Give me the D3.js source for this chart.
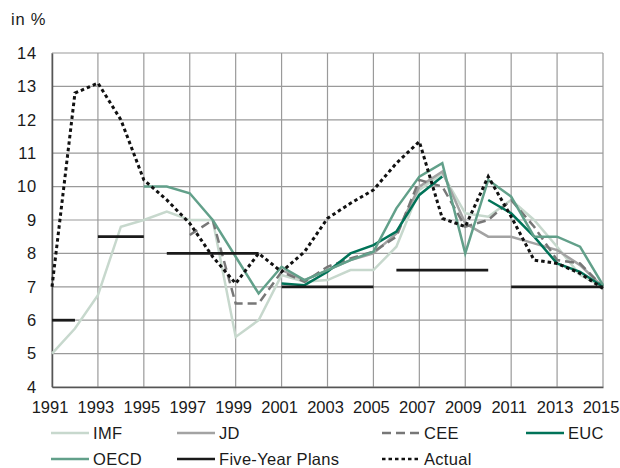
<!DOCTYPE html>
<html>
<head>
<meta charset="utf-8">
<script src="https://cdn.jsdelivr.net/npm/d3@7"></script>
<style>
  body { margin: 0; background: #fff; }
  text { font-family: "Liberation Sans", Arial, sans-serif; fill: #1a1a1a; }
</style>
</head>
<body>
<div id="chart"></div>
<script>
// years on the x axis
var years = [1991, 1992, 1993, 1994, 1995, 1996, 1997, 1998, 1999, 2000, 2001, 2002, 2003,
  2004, 2005, 2006, 2007, 2008, 2009, 2010, 2011, 2012, 2013, 2014, 2015];

var xTicks = [1991, 1993, 1995, 1997, 1999, 2001, 2003, 2005, 2007, 2009, 2011, 2013, 2015];
var yTicks = [4, 5, 6, 7, 8, 9, 10, 11, 12, 13, 14];

// forecasts, in %, null where no value
var imf = [5.0, 5.75, 6.75, 8.8, 9.0, 9.25, 9.0, 9.0, 5.5, 6.0, 7.35, 7.15, 7.2,
  7.5, 7.5, 8.2, 9.9, 10.4, 9.2, 9.1, 9.6, 9.0, 8.2, 7.35, 7.0];
var jd = [null, null, null, null, null, null, null, null, null, null, 7.5, 7.2, 7.5,
  7.8, 8.0, 8.6, 10.0, 10.45, 8.9, 8.5, 8.5, 8.3, 8.1, 7.65, 7.0];
var cee = [null, null, null, null, null, null, 8.55, 9.0, 6.5, 6.5, 7.45, 7.15, 7.6,
  7.85, 8.05, 8.5, 10.2, 10.0, 8.8, 9.0, 9.6, 8.8, 7.8, 7.7, 7.0];
var euc = [null, null, null, null, null, null, null, null, null, null, 7.1, 7.05, 7.45,
  8.0, 8.25, 8.65, 9.75, 10.3, null, 9.6, 9.2, 8.5, 7.7, 7.45, 7.0];
var oecd = [null, null, null, null, 10.0, 10.0, 9.8, 9.0, 7.9, 6.8, 7.6, 7.2, 7.5,
  7.8, 8.05, 9.35, 10.3, 10.7, 8.0, 10.2, 9.7, 8.5, 8.5, 8.2, 7.05];
var actual = [7.0, 12.8, 13.1, 12.0, 10.2, 9.6, 8.9, 7.9, 7.1, 8.0, 7.45, 8.05, 9.05,
  9.5, 9.9, 10.7, 11.35, 9.05, 8.8, 10.3, 9.1, 7.8, 7.7, 7.4, 6.95];

// five-year plan targets: start year, end year, value
var planStart = [1991, 1993, 1996, 2001, 2006, 2011];
var planEnd = [1992, 1995, 2000, 2005, 2010, 2015];
var planValue = [6, 8.5, 8, 7, 7.5, 7];

var svgWidth = 620;
var svgHeight = 468;

var margin = { top: 53, right: 17, bottom: 81, left: 52 };
var width = svgWidth - margin.left - margin.right;
var height = svgHeight - margin.top - margin.bottom;

var svg = d3.select("#chart")
  .append("svg")
  .attr("width", svgWidth)
  .attr("height", svgHeight);

var chartGroup = svg.append("g")
  .attr("transform", `translate(${margin.left}, ${margin.top})`);

var xScale = d3.scaleLinear().domain([1991, 2015]).range([0, width]);
var yScale = d3.scaleLinear().domain([4, 14]).range([height, 0]);

// grid
chartGroup.append("g")
  .selectAll("line")
  .data(yTicks)
  .enter()
  .append("line")
  .attr("x1", 0)
  .attr("x2", width)
  .attr("y1", d => yScale(d))
  .attr("y2", d => yScale(d))
  .attr("stroke", "#9a9a9a")
  .attr("stroke-width", 1.2);

chartGroup.append("g")
  .selectAll("line")
  .data(xTicks)
  .enter()
  .append("line")
  .attr("x1", d => xScale(d))
  .attr("x2", d => xScale(d))
  .attr("y1", 0)
  .attr("y2", height)
  .attr("stroke", "#9a9a9a")
  .attr("stroke-width", 1.2);

// axes
var bottomAxis = d3.axisBottom(xScale).tickValues(xTicks).tickFormat(d3.format("d")).tickSize(0).tickPadding(14);
var leftAxis = d3.axisLeft(yScale).tickValues(yTicks).tickSize(0).tickPadding(15);

var xAxis = chartGroup.append("g")
  .attr("transform", `translate(0, ${height})`)
  .call(bottomAxis);
var yAxis = chartGroup.append("g").call(leftAxis);

[xAxis, yAxis].forEach(function(ax) {
  ax.select(".domain").attr("stroke", "#555").attr("stroke-width", 1.5);
  ax.selectAll("text")
    .style("font-family", "'Liberation Sans', Arial, sans-serif")
    .style("font-size", "16.5px")
    .attr("fill", "#1a1a1a");
});
yAxis.selectAll("text").style("letter-spacing", "0.8px");
xAxis.selectAll("text").attr("dx", -2.5);

svg.append("text")
  .attr("x", 11)
  .attr("y", 25)
  .style("font-size", "16.5px")
  .style("letter-spacing", "0.8px")
  .text("in %");

// series
var series = [
  { name: "IMF", values: imf, color: "#c7d8cd", dash: null, width: 2.5 },
  { name: "JD", values: jd, color: "#a3a3a3", dash: null, width: 2.5 },
  { name: "CEE", values: cee, color: "#777777", dash: "9,5", width: 2.5 },
  { name: "EUC", values: euc, color: "#007358", dash: null, width: 2.5 },
  { name: "OECD", values: oecd, color: "#62a08a", dash: null, width: 2.5 },
  { name: "Actual", values: actual, color: "#111111", dash: "3.5,3", width: 3 }
];

var line = d3.line()
  .defined(d => d.v !== null)
  .x(d => xScale(d.year))
  .y(d => yScale(d.v));

function drawSeries(s) {
  chartGroup.append("path")
    .datum(years.map((y, i) => ({ year: y, v: s.values[i] })))
    .attr("fill", "none")
    .attr("stroke", s.color)
    .attr("stroke-width", s.width)
    .attr("stroke-dasharray", s.dash)
    .attr("stroke-linejoin", "miter")
    .attr("d", line);
}

series.slice(0, 5).forEach(drawSeries);

// five-year plans
chartGroup.append("g")
  .selectAll("line")
  .data(planValue)
  .enter()
  .append("line")
  .attr("x1", (d, i) => xScale(planStart[i]))
  .attr("x2", (d, i) => xScale(planEnd[i]))
  .attr("y1", d => yScale(d))
  .attr("y2", d => yScale(d))
  .attr("stroke", "#1a1a1a")
  .attr("stroke-width", 2.8);

drawSeries(series[5]);

// legend
var legendItems = [
  { name: "IMF", color: "#c7d8cd", dash: null, x: 51, y: 439 },
  { name: "JD", color: "#a3a3a3", dash: null, x: 177, y: 439 },
  { name: "CEE", color: "#777777", dash: "9,5", x: 382, y: 439 },
  { name: "EUC", color: "#007358", dash: null, x: 526, y: 439 },
  { name: "OECD", color: "#62a08a", dash: null, x: 51, y: 465 },
  { name: "Five-Year Plans", color: "#1a1a1a", dash: null, x: 177, y: 465 },
  { name: "Actual", color: "#111111", dash: "3.5,3", x: 382, y: 465 }
];

var legend = svg.append("g");
legendItems.forEach(function(item) {
  legend.append("line")
    .attr("x1", item.x)
    .attr("x2", item.x + 38)
    .attr("y1", item.y - 6)
    .attr("y2", item.y - 6)
    .attr("stroke", item.color)
    .attr("stroke-width", 2.5)
    .attr("stroke-dasharray", item.dash);
  legend.append("text")
    .attr("x", item.x + 42)
    .attr("y", item.y)
    .style("font-size", "16.5px")
    .style("letter-spacing", "0.3px")
    .text(item.name);
});
</script>
</body>
</html>
